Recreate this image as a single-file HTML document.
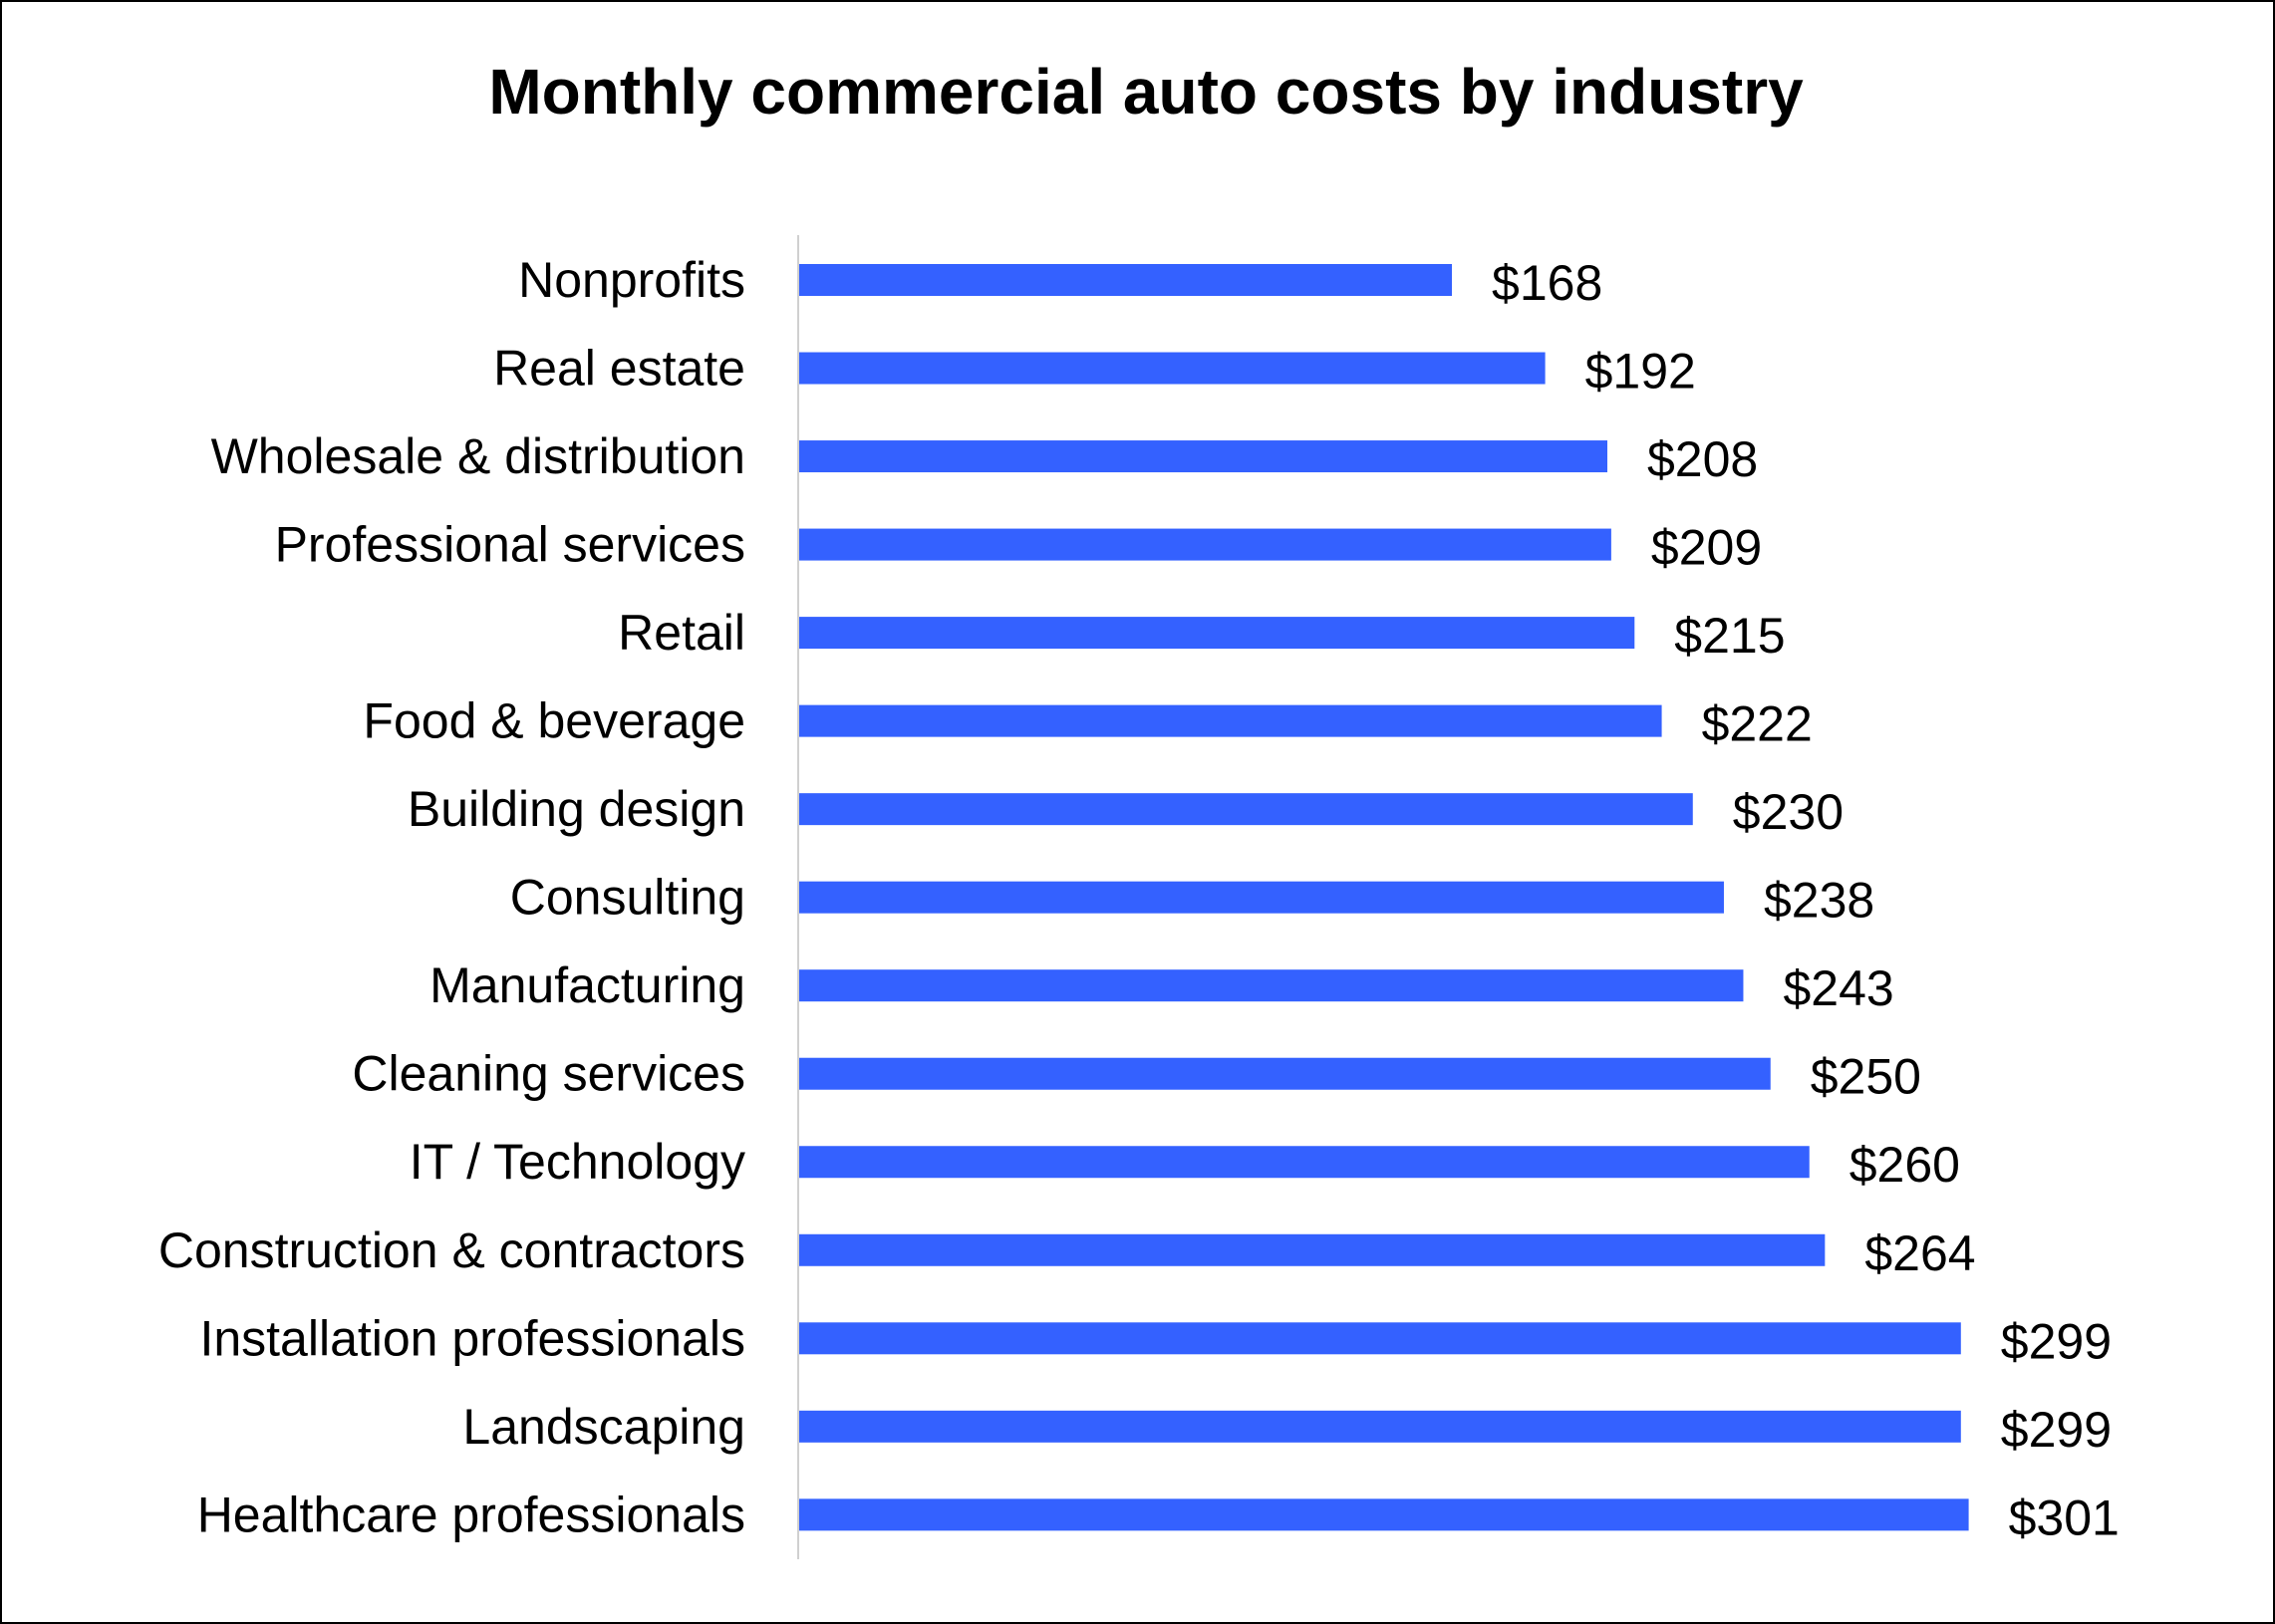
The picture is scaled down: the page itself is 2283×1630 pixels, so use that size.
<!DOCTYPE html>
<html><head><meta charset="utf-8"><style>
html,body{margin:0;padding:0;background:#fff;}
svg{display:block;}
</style></head><body>
<svg width="2283" height="1630" viewBox="0 0 2283 1630" xmlns="http://www.w3.org/2000/svg" font-family="'Liberation Sans', sans-serif">
<rect x="1" y="1" width="2281" height="1628" fill="#fff" stroke="#000" stroke-width="2"/>
<text x="1150" y="114" text-anchor="middle" font-size="64" font-weight="bold" fill="#000">Monthly commercial auto costs by industry</text>
<line x1="801" y1="236" x2="801" y2="1565" stroke="#d0d0d0" stroke-width="2"/>
<g id="bars" fill="#3461FF"></g>
<g id="labels" font-size="50" fill="#000"></g>
<script>
var d=[["Nonprofits",168],["Real estate",192],["Wholesale & distribution",208],["Professional services",209],["Retail",215],["Food & beverage",222],["Building design",230],["Consulting",238],["Manufacturing",243],["Cleaning services",250],["IT / Technology",260],["Construction & contractors",264],["Installation professionals",299],["Landscaping",299],["Healthcare professionals",301]];
var ns="http://www.w3.org/2000/svg",b=document.getElementById("bars"),l=document.getElementById("labels");
d.forEach(function(r,i){
 var cy=281+i*60.8*1.456, w=r[1]*3.899;
 var rc=document.createElementNS(ns,"rect");
 rc.setAttribute("x",802);rc.setAttribute("y",cy-16);rc.setAttribute("width",w);rc.setAttribute("height",32);b.appendChild(rc);
 var t=document.createElementNS(ns,"text");
 t.setAttribute("x",748);t.setAttribute("y",cy+17);t.setAttribute("text-anchor","end");t.textContent=r[0];l.appendChild(t);
 var v=document.createElementNS(ns,"text");
 v.setAttribute("x",802+w+40);v.setAttribute("y",cy+20);v.textContent="$"+r[1];l.appendChild(v);
});
</script>
</svg>
</body></html>
